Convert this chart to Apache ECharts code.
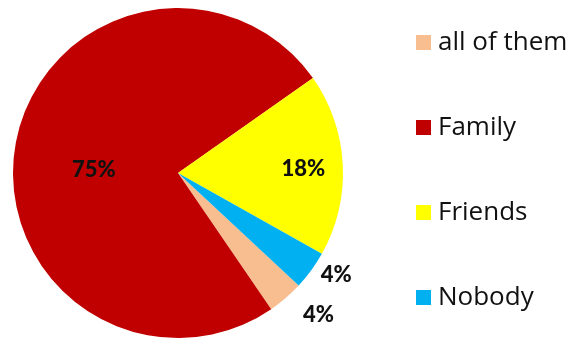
<!DOCTYPE html>
<html>
<head>
<meta charset="utf-8">
<script src="https://cdn.jsdelivr.net/npm/echarts@6/dist/echarts.min.js"></script>
<style>
  html, body { margin: 0; padding: 0; background: #fff; }
  #chart { width: 579px; height: 338px; }
</style>
</head>
<body>
<div id="chart"></div>
<script>
const categories = ["all of them", "Family", "Friends", "Nobody"];
const values = [3.5, 74.8, 17.9, 3.8];
const colors = ["#F9BE8F", "#C00000", "#FFFF00", "#00B0F0"];

const chart = echarts.init(document.getElementById("chart"));

const pctLabel = p => Math.round(p.percent) + "%";

const data = categories.map((name, i) => {
    const item = { name, value: values[i], itemStyle: { color: colors[i] } };
    if (name === "all of them" || name === "Nobody") {
        item.label = { position: "outside" };
        item.labelLine = { show: false, length: name === "Nobody" ? 8 : 22, length2: 0 };
    }
    return item;
});

chart.setOption({
    animation: false,
    backgroundColor: "#fff",

    legend: {
        orient: "vertical",
        left: 411,
        top: 24,
        itemWidth: 15,
        itemHeight: 15,
        itemGap: 58,
        icon: "rect",
        data: categories,
        textStyle: {
            fontFamily: "Open Sans",
            fontSize: 26,
            lineHeight: 27,
            color: "#111",
            padding: [0, 0, 0, 2]
        }
    },

    series: [
        {
            type: "pie",
            center: [178, 173],
            radius: 165,
            startAngle: -43,
            clockwise: true,
            avoidLabelOverlap: false,
            data: data,
            label: {
                show: true,
                position: "inside",
                formatter: pctLabel,
                fontFamily: "Lato",
                fontWeight: 900,
                fontSize: 22,
                color: "#111",
                distanceToLabelLine: 3
            },
            labelLayout: p => (p.dataIndex === 2 ? { dx: 40 } : p.dataIndex === 1 ? { dy: 12 } : {}),
            emphasis: { disabled: true }
        }
    ]
});
</script>
</body>
</html>
